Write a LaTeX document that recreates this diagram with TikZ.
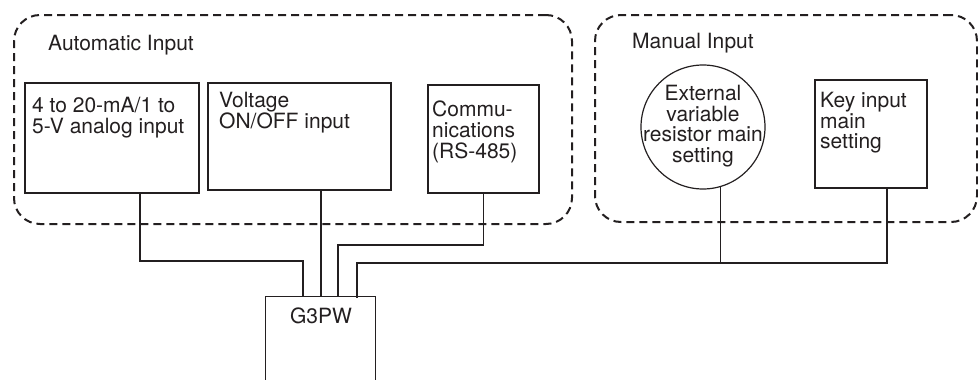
\documentclass[tikz,border=0pt]{standalone}
\usepackage{fontspec}
\setmainfont{TeX Gyre Heros}
\definecolor{ink}{HTML}{231F20}
\begin{document}
\begin{tikzpicture}[x=1pt,y=-1pt,
  every node/.style={text=ink},
  grp/.style={draw=ink, line width=2pt, dash pattern=on 8pt off 5pt, rounded corners=26pt, minimum width=#1, inner sep=0pt},
  blk/.style={draw=ink, line width=1.2pt, inner sep=0pt},
  lbl/.style={inner sep=0pt, anchor=north west, align=left, font=\fontsize{21}{20.6}\selectfont},
  wire/.style={draw=ink, line width=1.2pt}
]
\useasboundingbox (0,0) rectangle (978,380);
% groups
\node[grp=558pt, minimum height=209pt] (autog) at (293,119.5) {};
\node[grp=382pt, minimum height=207pt] (mang) at (786,118.5) {};
\node[lbl] (autol) at (48,35) {Automatic Input};
\node[lbl] (manl) at (632,33) {Manual Input};
% blocks
\node[blk, minimum width=174pt, minimum height=110pt] (b1) at (112,138) {};
\node[blk, minimum width=183pt, minimum height=107pt] (b2) at (299.5,136.5) {};
\node[blk, minimum width=111pt, minimum height=108pt] (b3) at (483.5,139) {};
\node[blk, circle, minimum size=124pt] (circ) at (703,127) {};
\node[blk, minimum width=112pt, minimum height=108pt] (key) at (871,134) {};
\node[lbl] (t1) at (32,97) {4 to 20-mA/1 to\\5-V analog input};
\node[lbl] (t2) at (219,92) {Voltage\\ON/OFF input};
\node[lbl] (t3) at (432,101) {Commu-\\nications\\(RS-485)};
\node[lbl, anchor=north, align=center] (t4) at (703,85) {External\\variable\\resistor main\\setting};
\node[lbl] (t5) at (820,92) {Key input\\main\\setting};
% G3PW (open at the bottom)
\node[inner sep=0pt, minimum width=109pt, minimum height=100pt] (g3pw) at (320.5,347) {};
\draw[wire] (g3pw.south west) -- (g3pw.north west) -- (g3pw.north east) -- (g3pw.south east);
\node[lbl, anchor=north] (g3l) at (321,308) {G3PW};
% pins
\coordinate (pin1) at (303,297);
\coordinate (pin2) at (321,297);
\coordinate (pin3) at (338,297);
\coordinate (pin4) at (357,298);
\coordinate (bus4) at (357,263);
% connectors
\draw[wire] ([xshift=28pt]b1.south) |- ([yshift=36pt]pin1) -- (pin1);
\draw[wire] (b2.south -| pin2) -- (pin2);
\draw[wire] (b3.south) |- ([yshift=52pt]pin3) -- (pin3);
\draw[wire] ([xshift=16pt]key.south) |- (bus4) -- (pin4);
\draw[wire] (circ.-74) -- (circ.-74 |- bus4);
\end{tikzpicture}
\end{document}
